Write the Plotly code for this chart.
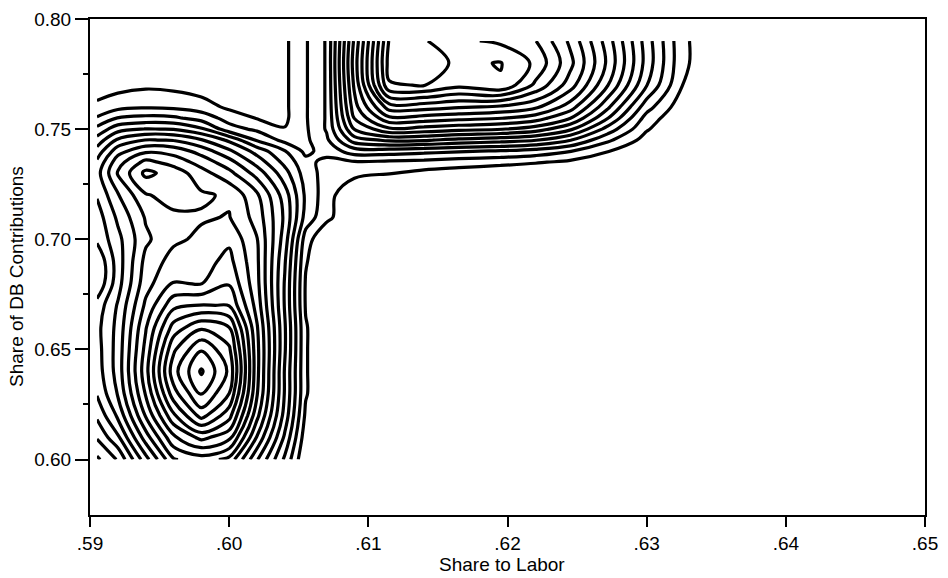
import plotly.graph_objects as go

# Grid of the estimated density surface (contour level units)
share_to_labor = [0.5905, 0.592, 0.594, 0.596, 0.598, 0.600, 0.602, 0.604, 0.6055,
                  0.607, 0.609, 0.6115, 0.614, 0.6165, 0.6195, 0.6220, 0.6245, 0.6272,
                  0.630, 0.6325, 0.635]
share_db = [0.60, 0.61, 0.62, 0.63, 0.64, 0.65, 0.66, 0.67, 0.68, 0.69, 0.70, 0.71,
            0.72, 0.73, 0.735, 0.74, 0.745, 0.75, 0.755, 0.76, 0.77, 0.78, 0.79]

Z0 = [0] * 12
density = [
    [1.8, 3.1, 6.6, 9.9, 10.5, 9.7, 6.1, 2.8, 0] + Z0,
    [3.1, 4.8, 8.5, 11.8, 13.3, 12.3, 7.9, 3.8, 0.4] + Z0,
    [4.2, 6.2, 10.1, 13.8, 16.4, 14.4, 9.3, 4.6, 0.8] + Z0,
    [5.1, 7.1, 11.1, 15.6, 18.1, 16.0, 10.1, 4.9, 1.1] + Z0,
    [5.5, 7.4, 11.6, 16.6, 19.15, 16.8, 10.3, 4.9, 1.1] + Z0,
    [5.6, 7.4, 11.3, 15.8, 17.9, 16.2, 10.3, 5.1, 1.1] + Z0,
    [5.7, 7.3, 10.9, 14.4, 15.8, 15.0, 10.1, 5.1, 1.1] + Z0,
    [5.4, 7.1, 10.2, 12.7, 13.05, 12.95, 9.6, 4.9, 0.9] + Z0,
    [4.1, 6.6, 9.6, 11.05, 10.95, 11.9, 9.3, 4.9, 0.9] + Z0,
    [4.1, 6.5, 9.3, 10.4, 10.6, 11.3, 9.2, 5.1, 1.1] + Z0,
    [5.2, 6.7, 8.8, 9.8, 10.2, 10.8, 9.05, 5.5, 1.5] + Z0,
    [5.5, 7.2, 9.1, 9.8, 9.9, 10.05, 8.6, 5.8, 2.6, 1.3, 0, 0, 0, 0, 0, 0, 0, 0, 0, 0, 0],
    [6.1, 7.9, 9.9, 10.4, 10.15, 9.85, 8.2, 5.5, 2.8, 1.45, 0, 0, 0, 0, 0, 0, 0, 0, 0, 0, 0],
    [6.6, 9.1, 11.25, 10.6, 9.4, 8.3, 6.6, 4.4, 2.5, 1.6, 1.3, 1.05, 0.7, 0.5, 0.3, 0.1, 0, 0, 0, 0, 0],
    [6.2, 8.6, 10.3, 9.6, 8.6, 7.4, 5.6, 3.7, 2.3, 1.7, 1.9, 1.8, 1.7, 1.5, 1.3, 1.1, 0.8, 0.3, 0, 0, 0],
    [5.4, 7.6, 8.8, 8.6, 7.6, 6.2, 4.6, 3.05, 1.75, 2.4, 3.5, 3.5, 3.3, 3.1, 2.9, 2.6, 2.05, 1.05, 0.2, 0, 0],
    [4.4, 6.2, 7.05, 6.95, 6.1, 4.8, 2.9, 1.7, 1.8, 2.8, 5.5, 6.2, 6.1, 5.7, 5.4, 5.05, 4.05, 2.2, 0.6, 0, 0],
    [3.3, 4.6, 5.05, 4.95, 4.2, 2.4, 1.8, 1.05, 1.85, 3.1, 7.05, 8.8, 8.6, 8.3, 8.05, 7.5, 6.2, 3.6, 1.1, 0, 0],
    [2.1, 3.05, 3.3, 3.2, 2.6, 1.6, 0.95, 0.8, 1.9, 3.1, 8.05, 10.8, 10.6, 10.3, 10.05, 9.5, 8.05, 5.05, 1.6, 0.1, 0],
    [1.3, 1.7, 1.9, 1.8, 1.5, 0.8, 0.5, 0.8, 1.9, 3.1, 8.6, 12.5, 12.4, 12.1, 11.8, 11.2, 9.5, 6.2, 2.4, 0.4, 0],
    [0.3, 0.6, 0.8, 0.7, 0.4, 0.1, 0.1, 0.8, 1.9, 3.1, 9.2, 15.9, 16.05, 15.3, 15.9, 13.8, 11.5, 8.05, 4.05, 1.05, 0],
    [0, 0, 0, 0, 0, 0, 0, 0.8, 1.9, 3.1, 9.5, 16.4, 16.5, 15.8, 16.05, 14.8, 12.3, 8.8, 4.6, 1.3, 0],
    [0, 0, 0, 0, 0, 0, 0, 0.8, 1.9, 3.1, 9.2, 16.1, 16.1, 15.2, 14.8, 14.05, 11.8, 8.5, 4.5, 1.3, 0],
]

x_ticks = [0.59, 0.60, 0.61, 0.62, 0.63, 0.64, 0.65]
x_tick_text = [".59", ".60", ".61", ".62", ".63", ".64", ".65"]
y_ticks = [0.60, 0.65, 0.70, 0.75, 0.80]
y_tick_text = ["0.60", "0.65", "0.70", "0.75", "0.80"]
y_minor = [0.625, 0.675, 0.725, 0.775]

fig = go.Figure()
fig.add_trace(go.Contour(
    x=share_to_labor, y=share_db, z=density,
    contours=dict(coloring="none", start=1, end=19, size=1),
    line=dict(color="black", width=3.2, smoothing=1.0),
    showscale=False, hoverinfo="skip",
))

FAM = "Liberation Sans, Arial, sans-serif"
tickfont = dict(family=FAM, size=19, color="black")
fig.update_layout(
    width=948, height=578,
    margin=dict(l=90, r=23, t=9, b=63),
    paper_bgcolor="white", plot_bgcolor="white",
    showlegend=False,
    font=tickfont,
    xaxis=dict(range=[0.59, 0.65], tickvals=x_ticks, ticktext=x_tick_text,
               showline=True, mirror=True, linecolor="black", linewidth=2,
               ticks="outside", ticklen=10, tickwidth=2, tickcolor="black",
               showgrid=False, zeroline=False, tickfont=tickfont),
    yaxis=dict(range=[0.5748, 0.80], tickvals=y_ticks, ticktext=y_tick_text,
               showline=True, mirror=True, linecolor="black", linewidth=2,
               ticks="outside", ticklen=13, tickwidth=2, tickcolor="black",
               showgrid=False, zeroline=False, tickfont=tickfont,
               minor=dict(tickvals=y_minor, ticks="outside", ticklen=5,
                          tickwidth=2, tickcolor="black")),
    annotations=[
        dict(text="Share to Labor", xref="paper", yref="paper", x=0.493, y=-0.1008,
             xanchor="center", yanchor="middle", showarrow=False,
             font=dict(family=FAM, size=19, color="black")),
        dict(text="Share of DB Contributions", xref="paper", yref="paper", x=-0.0874, y=0.48,
             xanchor="center", yanchor="middle", textangle=-90, showarrow=False,
             font=dict(family=FAM, size=19, color="black")),
    ],
)
fig.write_html("out.html")
